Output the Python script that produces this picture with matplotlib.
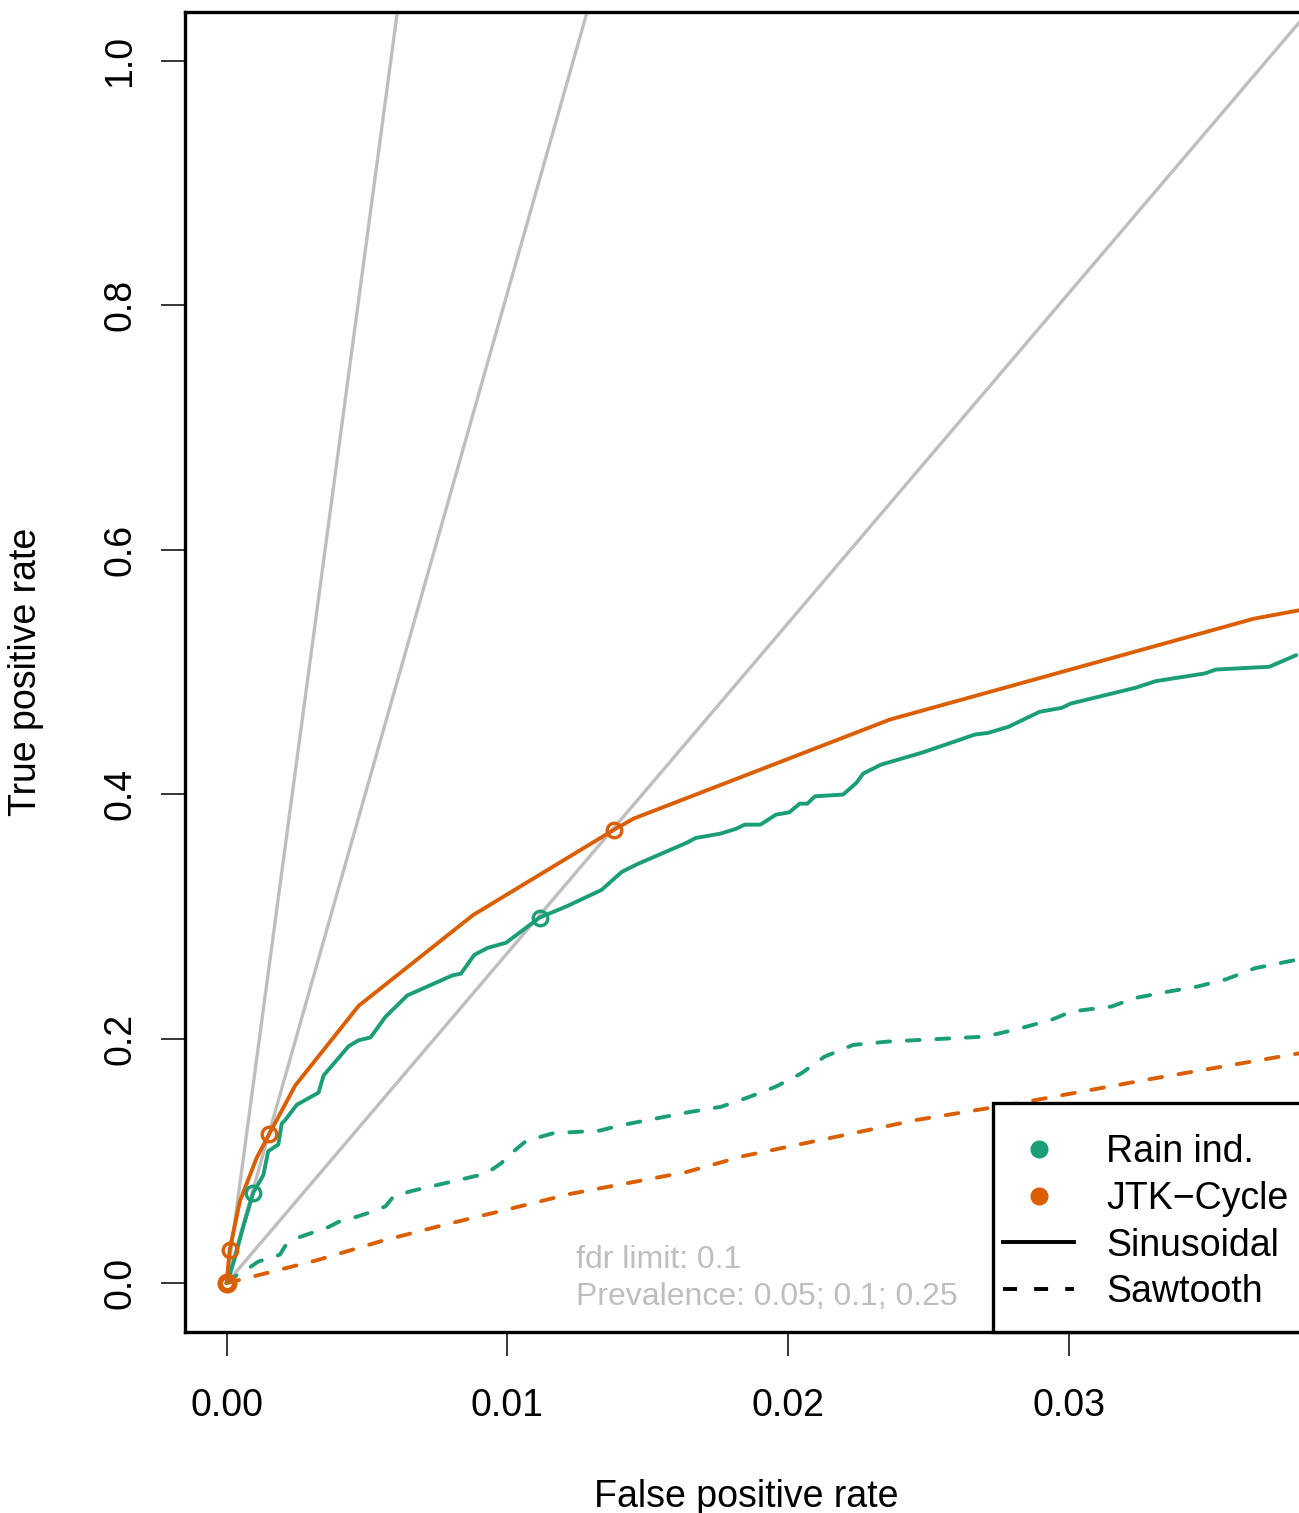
import matplotlib
matplotlib.use('Agg')
import matplotlib.pyplot as plt
from matplotlib.patches import Rectangle
from matplotlib.lines import Line2D

plt.rcParams['font.family'] = ['Liberation Sans', 'DejaVu Sans']

# ---------------- data ----------------
rain_sin_fpr = [0, 0.0000534, 0.000292, 0.000591, 0.000951, 0.001307, 0.001485, 0.001845,
                0.001963, 0.002084, 0.002501, 0.003278, 0.003456, 0.004350, 0.004706,
                0.005126, 0.005661, 0.006438, 0.008048, 0.008347, 0.008824, 0.009302,
                0.009957, 0.011151, 0.012106, 0.013356, 0.014072, 0.014610, 0.016398,
                0.016708, 0.017581, 0.018133, 0.018454, 0.019013, 0.019569, 0.020046,
                0.020413, 0.020684, 0.020955, 0.021956, 0.022433, 0.022672, 0.023309,
                0.024738, 0.025853, 0.026648, 0.027125, 0.027841, 0.028953, 0.029747,
                0.030068, 0.032373, 0.033089, 0.034838, 0.035233, 0.037143, 0.038098]
rain_sin_tpr = [0, 0.0021, 0.0205, 0.0459, 0.0740, 0.0882, 0.1079, 0.1135,
                0.1305, 0.1333, 0.1459, 0.1559, 0.1699, 0.1939, 0.1987,
                0.2010, 0.2179, 0.2354, 0.2518, 0.2532, 0.2686, 0.2743,
                0.2785, 0.2991, 0.3082, 0.3217, 0.3364, 0.3426, 0.3604,
                0.3642, 0.3677, 0.3716, 0.3751, 0.3751, 0.3833, 0.3852,
                0.3923, 0.3923, 0.3983, 0.3997, 0.4093, 0.4169, 0.4242,
                0.4338, 0.4425, 0.4488, 0.4502, 0.4551, 0.4674, 0.4707,
                0.4742, 0.4871, 0.4925, 0.4988, 0.5020, 0.5043, 0.5138]

jtk_sin_fpr = [0, 0.000114, 0.000474, 0.001069, 0.001521, 0.002440, 0.004706, 0.008778,
               0.013787, 0.014503, 0.023627, 0.036587, 0.038226]
jtk_sin_tpr = [0, 0.0275, 0.0670, 0.1023, 0.1220, 0.1615, 0.2269, 0.3011,
               0.3708, 0.3801, 0.4611, 0.5436, 0.5506]

rain_saw_fpr = [0, 0.0000534, 0.000770, 0.001129, 0.001902, 0.002084, 0.002561, 0.003634,
                0.003990, 0.004706, 0.005006, 0.005661, 0.005960, 0.006616, 0.009241,
                0.009779, 0.010079, 0.010673, 0.011628, 0.013299, 0.014015, 0.016398,
                0.017617, 0.018639, 0.019558, 0.020477, 0.021297, 0.022319, 0.023545,
                0.027022, 0.028148, 0.029377, 0.030089, 0.031521, 0.032341, 0.033566,
                0.034589, 0.035611, 0.036633, 0.038226]
rain_saw_tpr = [0, 0.0021, 0.0120, 0.0176, 0.0233, 0.0303, 0.0373, 0.0459,
                0.0501, 0.0548, 0.0571, 0.0628, 0.0713, 0.0755, 0.0896,
                0.0980, 0.1051, 0.1164, 0.1226, 0.1248, 0.1290, 0.1396,
                0.1443, 0.1525, 0.1607, 0.1717, 0.1853, 0.1949, 0.1976,
                0.2017, 0.2077, 0.2154, 0.2222, 0.2263, 0.2332, 0.2386,
                0.2427, 0.2487, 0.2577, 0.2651]

jtk_saw_fpr = [0, 0.001069, 0.003278, 0.005543, 0.007691, 0.009957, 0.012220, 0.014492,
               0.016398, 0.018418, 0.024581, 0.028251, 0.032740, 0.038226]
jtk_saw_tpr = [0, 0.0061, 0.0191, 0.0346, 0.0473, 0.0600, 0.0729, 0.0827,
               0.0910, 0.1040, 0.1335, 0.1474, 0.1663, 0.1881]

# fdr-limit points marked with open circles
rain_pts_fpr = [0, 0.000951, 0.011151]
rain_pts_tpr = [0, 0.0740, 0.2991]
jtk_pts_fpr = [0, 0.000114, 0.001521, 0.013787]
jtk_pts_tpr = [0, 0.0275, 0.1220, 0.3708]

fdr_limit = 0.1
prevalences = [0.05, 0.1, 0.25]

x_ticks = [0.0, 0.01, 0.02, 0.03]
x_tick_labels = ['0.00', '0.01', '0.02', '0.03']
y_ticks = [0.0, 0.2, 0.4, 0.6, 0.8, 1.0]
y_tick_labels = ['0.0', '0.2', '0.4', '0.6', '0.8', '1.0']

method_labels = ['Rain ind.', 'JTK\u2212Cycle']
shape_labels = ['Sinusoidal', 'Sawtooth']
note_lines = ['fdr limit: 0.1', 'Prevalence: 0.05; 0.1; 0.25']

# ---------------- style ----------------
GREEN = '#1B9E77'
ORANGE = '#D95F02'
GREY = '#BEBEBE'
LW = 2.8
DASH = (0, (3.3, 4.3))
FS = 27

W, H = 1299, 1513
fig = plt.figure(figsize=(W / 100, H / 100), dpi=100)
ax_l, ax_r, ax_t, ax_b = 185, 1307, 12, 1332
ax = fig.add_axes([ax_l / W, 1 - ax_b / H, (ax_r - ax_l) / W, (ax_b - ax_t) / H])
XLIM = (-0.00148, 0.03848)
ax.set_xlim(*XLIM)
ax.set_ylim(-0.04, 1.04)

# fdr reference lines (start at the origin)
for p in prevalences:
    slope = (1 - fdr_limit) / fdr_limit * (1 - p) / p
    ax.plot([0, XLIM[1]], [0, slope * XLIM[1]], color=GREY, lw=2.4, zorder=1,
            solid_capstyle='butt')

ax.plot(rain_saw_fpr, rain_saw_tpr, color=GREEN, lw=LW, ls=DASH, dash_capstyle='round', zorder=2)
ax.plot(jtk_saw_fpr, jtk_saw_tpr, color=ORANGE, lw=LW, ls=DASH, dash_capstyle='round', zorder=2)
ax.plot(rain_sin_fpr, rain_sin_tpr, color=GREEN, lw=LW, solid_capstyle='round',
        solid_joinstyle='round', zorder=3)
ax.plot(jtk_sin_fpr, jtk_sin_tpr, color=ORANGE, lw=LW, solid_capstyle='round',
        solid_joinstyle='round', zorder=3)

ax.plot(rain_pts_fpr, rain_pts_tpr, ls='none', marker='o', ms=10.5, mfc='none', mec=GREEN,
        mew=2.4, zorder=4)
ax.plot(jtk_pts_fpr, jtk_pts_tpr, ls='none', marker='o', ms=10.5, mfc='none', mec=ORANGE,
        mew=2.4, zorder=5)
ax.plot(jtk_pts_fpr[:1], jtk_pts_tpr[:1], ls='none', marker='o', ms=10.5, mfc='none',
        mec=ORANGE, mew=4.0, zorder=5)

# axes appearance
for s in ax.spines.values():
    s.set_linewidth(2.4)
    s.set_color('black')
ax.set_xticks(x_ticks)
ax.set_xticklabels(x_tick_labels, fontsize=FS)
ax.set_yticks(y_ticks)
ax.set_yticklabels(y_tick_labels, fontsize=FS, rotation=90, va='center')
ax.tick_params(axis='x', length=17.5, width=1.1, pad=23, direction='out')
ax.tick_params(axis='y', length=17.5, width=1.1, pad=16, direction='out')

ax.set_xlabel('False positive rate', fontsize=FS, va='center')
ax.xaxis.set_label_coords(0.5, -(1497 - ax_b) / (ax_b - ax_t))
ax.set_ylabel('True positive rate', fontsize=FS, va='center')
ax.yaxis.set_label_coords(-(ax_l - 26.5) / (ax_r - ax_l), 0.5)

# note text
ax.text((576 - ax_l) / (ax_r - ax_l), (ax_b - 1260) / (ax_b - ax_t), note_lines[0],
        transform=ax.transAxes, color=GREY, fontsize=23, ha='left', va='center')
ax.text((576 - ax_l) / (ax_r - ax_l), (ax_b - 1297) / (ax_b - ax_t), note_lines[1],
        transform=ax.transAxes, color=GREY, fontsize=23, ha='left', va='center')

# legend: box + entries
box = Rectangle(((993 - ax_l) / (ax_r - ax_l), 0), 0.4, (ax_b - 1103) / (ax_b - ax_t),
                transform=ax.transAxes, facecolor='white', edgecolor='black', lw=2.4,
                zorder=6, clip_on=False)
ax.add_patch(box)
handles = [
    Line2D([], [], ls='none', marker='o', ms=12, color=GREEN),
    Line2D([], [], ls='none', marker='o', ms=12, color=ORANGE),
    Line2D([], [], color='black', lw=LW),
    Line2D([], [], color='black', lw=LW, ls=(0, (3.6, 4.4))),
]
leg = ax.legend(handles, method_labels + shape_labels, loc='lower left',
                bbox_to_anchor=((1003 - ax_l) / (ax_r - ax_l), (ax_b - 1310) / (ax_b - ax_t)),
                frameon=False, borderpad=0, borderaxespad=0, fontsize=FS,
                handlelength=1.9, handletextpad=0.85, labelspacing=0.28)
leg.set_zorder(7)

fig.savefig('out.png', dpi=100)
